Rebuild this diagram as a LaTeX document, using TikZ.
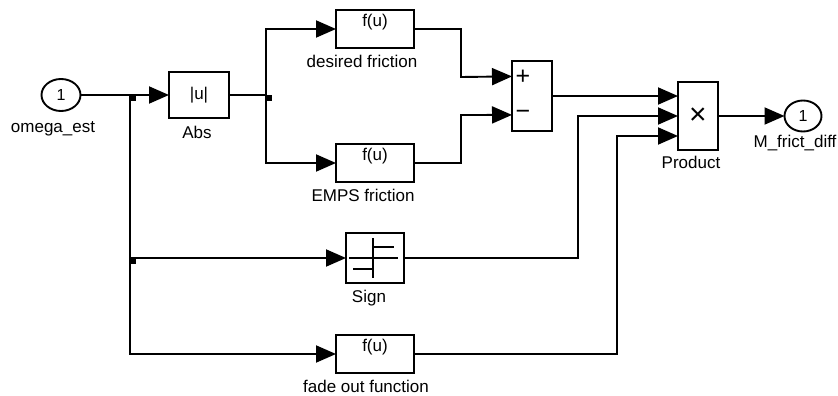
\documentclass[tikz,border=0pt]{standalone}
\usepackage{fontspec}
\setmainfont{Liberation Sans}
\usetikzlibrary{arrows.meta,shapes.geometric,calc}

\begin{document}
\begin{tikzpicture}[x=1pt, y=-1pt, >={Triangle[length=20pt,width=17pt]}, line width=1.9pt,
  blk/.style={draw, rectangle, outer sep=0pt, inner sep=0pt, font=\fontsize{17}{20}\selectfont},
  fbox/.style={blk, minimum width=78pt, minimum height=38pt, text depth=17pt},
  port/.style={draw, ellipse, outer sep=0pt, inner sep=0pt, minimum width=39pt, minimum height=32pt, font=\fontsize{16}{18}\selectfont},
  lbl/.style={anchor=base, inner sep=0pt, font=\fontsize{17}{20}\selectfont},
  sgn/.style={inner sep=0pt, font=\fontsize{25}{26}\selectfont}]
\useasboundingbox (0,0) rectangle (838,396);
% blocks
\node[port] (in1) at (61,95) {1};
\node[blk, minimum width=60pt, minimum height=46pt] (abs) at (199,95) {|u|};
\node[fbox] (des) at (375,29) {f(u)};
\node[fbox] (emps) at (375,163) {f(u)};
\node[blk, minimum width=40pt, minimum height=70pt] (sum) at (532,96) {};
\node[sgn] (plus) at (523,77) {+};
\node[sgn] (minus) at (523,115) {−};
\node[blk, minimum width=58pt, minimum height=50pt] (sign) at (375,258) {};
\node[fbox] (fade) at (375,354) {f(u)};
\node[blk, minimum width=40pt, minimum height=68pt, font=\fontsize{30}{30}\selectfont] (prod) at (698,116) {×};
\node[port, minimum width=37pt, minimum height=31pt] (out1) at (803,116) {1};
% sign icon
\draw (349,258) -- (398,258) (373,238) -- (373,278) (373,247) -- (394,247) (353,269) -- (373,269);
% labels
\node[lbl] (in1-lbl) at (53,132) {omega\_est};
\node[lbl] (abs-lbl) at (197,138) {Abs};
\node[lbl] (des-lbl) at (362,68) {desired friction};
\node[lbl] (emps-lbl) at (363,201) {EMPS friction};
\node[lbl] (sign-lbl) at (369,302) {Sign};
\node[lbl] (fade-lbl) at (366,392) {fade out function};
\node[lbl] (prod-lbl) at (691,168) {Product};
\node[lbl] (out1-lbl) at (795,147) {M\_frict\_diff};
% ports and branch points
\coordinate (j1) at (130,95);
\coordinate (j2) at (266,95);
\coordinate (j3) at (130,258);
\coordinate (s1) at ($(sum.north west)!0.22!(sum.south west)$);
\coordinate (s2) at ($(sum.north west)!0.77!(sum.south west)$);
\coordinate (p1) at ($(prod.north west)!0.206!(prod.south west)$);
\coordinate (p2) at ($(prod.north west)!0.5!(prod.south west)$);
\coordinate (p3) at ($(prod.north west)!0.794!(prod.south west)$);
% signals
\draw[->] (in1.east) -- (abs.west);
\draw[->] (j1) |- (fade.west);
\draw[->] (j3) -- (sign.west);
\draw (abs.east) -- (j2);
\draw[->] (j2) |- (des.west);
\draw[->] (j2) |- (emps.west);
\draw[->] (des.east) -| (461,77) -- (s1);
\draw[->] (emps.east) -| (461,115) -- (s2);
\draw[->] (sum.east) -- (p1);
\draw[->] (sign.east) -| ([xshift=-100pt]p2) -- (p2);
\draw[->] (fade.east) -| ([xshift=-61pt]p3) -- (p3);
\draw[->] (prod.east) -- (out1.west);
\foreach \j in {j1,j2,j3} \fill (\j) rectangle ++(6,6);
\end{tikzpicture}
\end{document}
